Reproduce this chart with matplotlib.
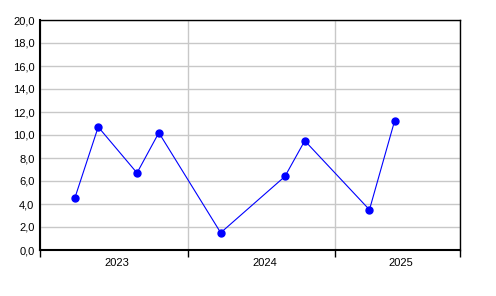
import matplotlib
matplotlib.use("Agg")
import matplotlib.pyplot as plt
import matplotlib.dates as mdates
import matplotlib.ticker as mticker
import numpy as np
import datetime as dt

dates = ["2023-03-28", "2023-05-25", "2023-08-29", "2023-10-22",
         "2024-03-23", "2024-08-29", "2024-10-17", "2025-03-26", "2025-05-27"]
values = [4.5, 10.7, 6.7, 10.2, 1.5, 6.4, 9.5, 3.5, 11.2]
years = [2023, 2024, 2025]
x_start = "2023-01-01"
x_end = "2025-11-05"

plt.rcParams['font.family'] = ['Liberation Sans', 'DejaVu Sans']

fig = plt.figure(figsize=(4.96, 2.96), dpi=100)
W, H = 496, 296
ax = fig.add_axes([40 / W, (H - 250) / H, 420 / W, 230 / H])

xd = [mdates.date2num(dt.date.fromisoformat(d)) for d in dates]
x0 = mdates.date2num(dt.date.fromisoformat(x_start))
x1 = mdates.date2num(dt.date.fromisoformat(x_end))

ax.plot(xd, values, color='#0000ff', lw=0.8, marker='o', ms=5, zorder=3)

ax.set_xlim(x0, x1)
ax.set_ylim(0, 20)

bounds = [x0] + [mdates.date2num(dt.date(y, 1, 1)) for y in years[1:]] + [x1]
ax.xaxis.set_major_locator(mticker.FixedLocator(bounds))
ax.xaxis.set_major_formatter(mticker.NullFormatter())
centers = [(bounds[i] + bounds[i + 1]) / 2 + 7 for i in range(len(years))]
ax.xaxis.set_minor_locator(mticker.FixedLocator(centers))
ax.xaxis.set_minor_formatter(mticker.FixedFormatter([str(y) for y in years]))
ax.tick_params(axis='x', which='major', length=5, width=1, color='black', direction='out')
ax.tick_params(axis='x', which='minor', length=0, pad=6, labelsize=8)

ax.yaxis.set_major_locator(mticker.MultipleLocator(2))
ax.yaxis.set_major_formatter(mticker.FuncFormatter(lambda v, p: f"{v:.1f}".replace('.', ',')))
ax.tick_params(axis='y', length=0, pad=4, labelsize=8)

ax.grid(True, which='major', color='#c8c8c8', lw=1)
ax.set_axisbelow(True)
for s in ax.spines.values():
    s.set_color('black')
    s.set_linewidth(1)
ax.spines['left'].set_linewidth(1.5)
ax.spines['bottom'].set_linewidth(1.5)

fig.savefig("out.png", dpi=100)
